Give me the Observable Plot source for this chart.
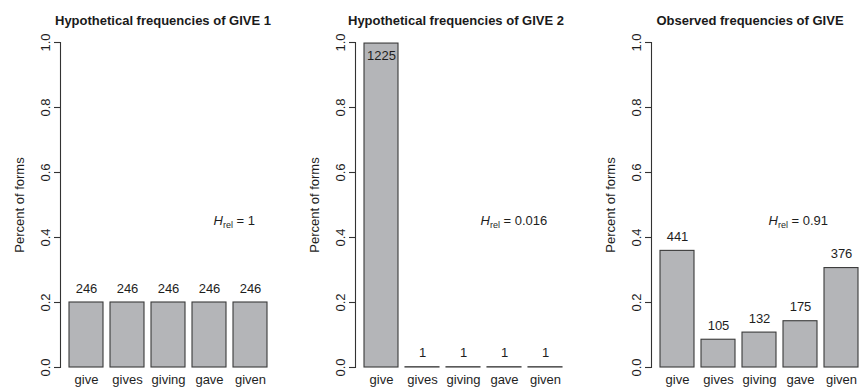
<!DOCTYPE html>
<html>
<head>
<meta charset="utf-8">
<script src="https://cdn.jsdelivr.net/npm/d3@7"></script>
<script src="https://cdn.jsdelivr.net/npm/@observablehq/plot@0.6"></script>
<style>
  html, body { margin: 0; padding: 0; background: #fff; }
  #wrap { position: relative; width: 859px; height: 387px; overflow: hidden; font-family: "Liberation Sans", Arial, sans-serif; }
  .panel { position: absolute; top: 0; }
  .title { position: absolute; top: 13px; font-weight: bold; font-size: 13px; color: #1a1a1a; white-space: nowrap; transform: translateX(-50%); }
</style>
</head>
<body>
<div id="wrap"></div>
<script>
// ---- data ----
const forms = ["give", "gives", "giving", "gave", "given"];
const countsGive1 = [246, 246, 246, 246, 246];
const countsGive2 = [1225, 1, 1, 1, 1];
const countsObserved = [441, 105, 132, 175, 376];
const panelTitles = ["Hypothetical frequencies of GIVE 1", "Hypothetical frequencies of GIVE 2", "Observed frequencies of GIVE"];
const hrelValues = ["1", "0.016", "0.91"];
const yTicks = [0, 0.2, 0.4, 0.6, 0.8, 1.0];
const yLabel = "Percent of forms";

// ---- layout ----
const panelLeft = [0, 295, 591];
const panelWidth = [295, 296, 268];
const titleCenter = [163, 161, 159];
const hrelDx = [153, 125, 117];
const series = [countsGive1, countsGive2, countsObserved];

const wrap = document.getElementById("wrap");
const ink = "#1e1e1e";

series.forEach((counts, p) => {
  const total = d3.sum(counts);
  const data = forms.map((f, i) => ({form: f, count: counts[i], share: counts[i] / total}));
  const chart = Plot.plot({
    width: panelWidth[p],
    height: 387,
    marginTop: 42,
    marginBottom: 20,
    marginLeft: 60,
    marginRight: 0,
    style: {fontFamily: "Liberation Sans, Arial, sans-serif", fontSize: "13px", color: ink, background: "transparent"},
    x: {domain: forms, range: [60, 276], paddingInner: 1/6, paddingOuter: 0.193},
    y: {domain: [0, 1]},
    marks: [
      Plot.frame({anchor: "left", stroke: "#333", strokeWidth: 1.1}),
      Plot.axisY({ticks: yTicks, tickFormat: d3.format(".1f"), tickSize: 6, tickPadding: 5, tickRotate: -90,
        stroke: "#333", strokeWidth: 1.1, fontSize: 13, label: yLabel, labelAnchor: "center", labelOffset: 46, labelArrow: "none"}),
      Plot.axisX({tickSize: 0, tickPadding: 7, label: null, fontSize: 13}),
      Plot.rectY(data, {x: "form", y: "share", fill: "#b4b5b8", stroke: "#3a3a3a", strokeWidth: 1.1}),
      Plot.text(data, {x: "form", y: d => Math.min(d.share + 0.043, 0.96), text: d => String(d.count), fontSize: 13, fill: ink}),
      Plot.text([hrelValues[p]], {frameAnchor: "left", dx: hrelDx[p], y: () => 0.452, text: d => d, textAnchor: "start", fontSize: 13, fill: ink, className: "hrel"})
    ]
  });
  // subscript formatting of H_rel
  d3.select(chart).selectAll(".hrel text").each(function() {
    const t = d3.select(this);
    const v = t.text();
    t.text(null);
    t.append("tspan").attr("font-style", "italic").text("H");
    t.append("tspan").attr("font-size", "9px").attr("dy", "3").text("rel");
    t.append("tspan").attr("dy", "-3").text(" = " + v);
  });
  const div = document.createElement("div");
  div.className = "panel";
  div.style.left = panelLeft[p] + "px";
  div.style.width = panelWidth[p] + "px";
  div.style.height = "387px";
  div.appendChild(chart);
  const title = document.createElement("div");
  title.className = "title";
  title.style.left = titleCenter[p] + "px";
  title.textContent = panelTitles[p];
  div.appendChild(title);
  wrap.appendChild(div);
});
</script>
</body>
</html>
